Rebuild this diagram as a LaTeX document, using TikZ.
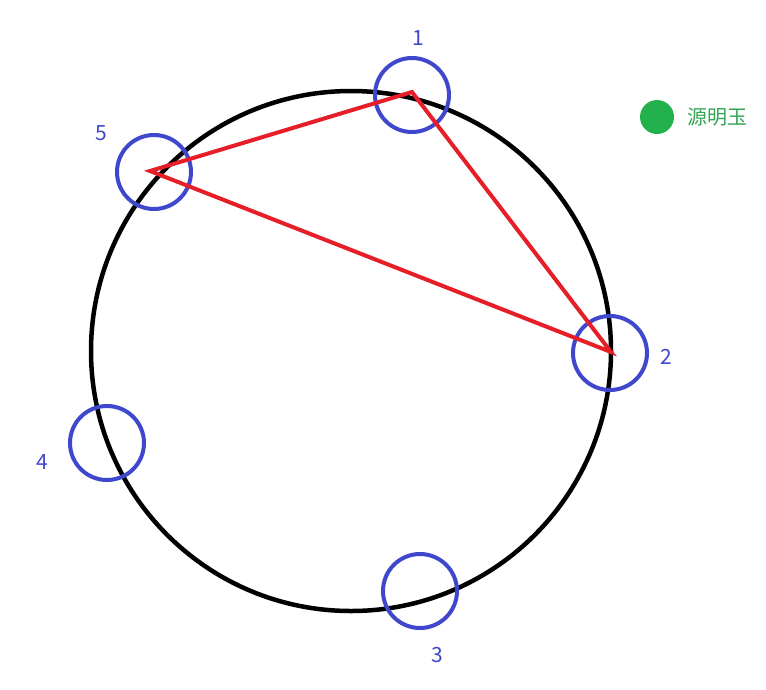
\documentclass[tikz,border=0pt]{standalone}
\usepackage{fontspec}
\setmainfont{Noto Sans CJK SC}
\definecolor{pblue}{RGB}{63,72,204}
\definecolor{pred}{RGB}{230,30,40}
\definecolor{pgreen}{RGB}{34,177,76}
\definecolor{tgreen}{RGB}{50,165,85}
\begin{document}
\begin{tikzpicture}[x=1pt,y=-1pt,
  ring/.style={draw=pblue,line width=4pt,circle,minimum size=74pt,inner sep=0pt},
  lbl/.style={text=pblue,font=\fontsize{21}{21}\selectfont,inner sep=0pt},
  edge/.style={draw=pred,line width=4pt,line join=miter}]
\useasboundingbox (0,0) rectangle (766,689);
\fill[white] (0,0) rectangle (766,689);
\node[draw=black,line width=4.5pt,circle,minimum size=520pt,inner sep=0pt] (big) at (351,351) {};
\node[ring] (c1) at (412,95) {};
\node[ring] (c5) at (154,172) {};
\node[ring] (c2) at (610,353) {};
\node[ring] (c4) at (107,443) {};
\node[ring] (c3) at (420,591) {};
\coordinate (p1) at (412,92);
\coordinate (p5) at (150,171);
\coordinate (p2) at (611,352);
\draw[edge] (p1) -- (p2) -- (p5) -- cycle;
\node[lbl] (l1) at (418,38) {1};
\node[lbl] (l5) at (101,133) {5};
\node[lbl] (l2) at (666,357) {2};
\node[lbl] (l4) at (42,462) {4};
\node[lbl] (l3) at (437,655) {3};
\node[fill=pgreen,circle,minimum size=34pt,inner sep=0pt] (dot) at (657,117) {};
\node[text=tgreen,font=\fontsize{20}{20}\selectfont,inner sep=0pt] (name) at (717,117) {源明玉};
\end{tikzpicture}
\end{document}
